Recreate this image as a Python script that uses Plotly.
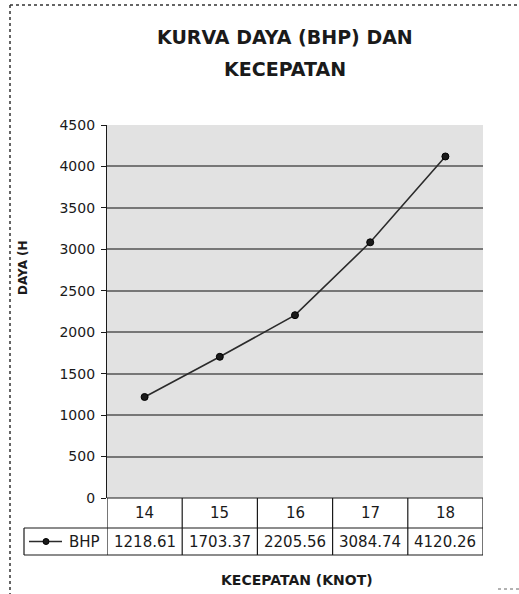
import plotly.graph_objects as go

# Ship speed (knots) versus brake horsepower
speeds = ["14", "15", "16", "17", "18"]
bhp = [1218.61, 1703.37, 2205.56, 3084.74, 4120.26]
series_name = "BHP"
y_ticks = [0, 500, 1000, 1500, 2000, 2500, 3000, 3500, 4000, 4500]

W, H = 519, 594
FONT = "DejaVu Sans"
INK = "#1a1a1a"


def px(x):
    return x / W


def py(y):
    return 1 - y / H


def label(x, y, text, size, xref="paper", **kw):
    return dict(x=x, y=y, xref=xref, yref="paper", text=text, showarrow=False,
                xanchor="center", yanchor="middle",
                font=dict(family=FONT, size=size, color=INK), **kw)


fig = go.Figure(
    go.Scatter(
        x=speeds,
        y=bhp,
        mode="lines+markers",
        name=series_name,
        line=dict(color="#2b2b2b", width=1.6),
        marker=dict(size=7, color="#1a1a1a", line=dict(color="#000000", width=1)),
        showlegend=False,
    )
)

shapes = []
annotations = []

# outer chart frame (top and left edges)
frame = dict(color="#333333", width=1.5, dash="dot")
shapes.append(dict(type="line", xref="paper", yref="paper", x0=px(10), x1=px(519), y0=py(5), y1=py(5), line=frame))
shapes.append(dict(type="line", xref="paper", yref="paper", x0=px(10), x1=px(10), y0=py(5), y1=py(594), line=frame))
shapes.append(dict(type="line", xref="paper", yref="paper", x0=px(498), x1=px(519), y0=py(589), y1=py(589),
                   line=dict(color="#666666", width=1, dash="dot")))

# data table under the plot
row1_top, row1_bot, row2_bot = 498, 528, 555
table_line = dict(color=INK, width=1.2)
shapes.append(dict(type="line", xref="paper", yref="paper", x0=px(107), x1=px(483), y0=py(row1_top), y1=py(row1_top), line=table_line))
shapes.append(dict(type="line", xref="paper", yref="paper", x0=px(24), x1=px(483), y0=py(row1_bot), y1=py(row1_bot), line=table_line))
shapes.append(dict(type="line", xref="paper", yref="paper", x0=px(24), x1=px(483), y0=py(row2_bot), y1=py(row2_bot), line=table_line))
shapes.append(dict(type="line", xref="paper", yref="paper", x0=px(24), x1=px(24), y0=py(row1_bot), y1=py(row2_bot), line=table_line))
for i in range(len(speeds) + 1):
    shapes.append(dict(type="line", xref="x", yref="paper", x0=i - 0.5, x1=i - 0.5,
                       y0=py(row1_top), y1=py(row2_bot), line=table_line))

for i, (s, v) in enumerate(zip(speeds, bhp)):
    annotations.append(label(i, py((row1_top + row1_bot) / 2), s, 15, xref="x"))
    annotations.append(label(i, py((row1_bot + row2_bot) / 2), f"{v:.2f}", 15, xref="x"))

# legend key inside the table
ky = py((row1_bot + row2_bot) / 2)
shapes.append(dict(type="line", xref="paper", yref="paper", x0=px(29), x1=px(62), y0=ky, y1=ky,
                   line=dict(color="#2b2b2b", width=1.4)))
shapes.append(dict(type="circle", xref="paper", yref="paper", x0=px(43), x1=px(49), y0=ky - 3 / H, y1=ky + 3 / H,
                   fillcolor="#1a1a1a", line=dict(color="#000", width=1)))
annotations.append(label(px(84), ky, series_name, 15))

# titles
annotations.append(label(px(285), py(37), "<b>KURVA DAYA (BHP) DAN</b>", 19))
annotations.append(label(px(285), py(69), "<b>KECEPATAN</b>", 19))
annotations.append(label(px(297), py(580), "<b>KECEPATAN (KNOT)</b>", 14))
annotations.append(label(px(23), py(268), "<b>DAYA (H</b>", 12, textangle=-90))

fig.update_layout(
    width=W,
    height=H,
    margin=dict(l=0, r=0, t=0, b=0, pad=0, autoexpand=False),
    paper_bgcolor="white",
    plot_bgcolor="#e2e2e2",
    shapes=shapes,
    annotations=annotations,
    xaxis=dict(
        type="category",
        range=[-0.5, len(speeds) - 0.5],
        domain=[px(107), px(483)],
        showticklabels=False,
        showgrid=False,
        showline=False,
        zeroline=False,
        ticks="",
        automargin=False,
    ),
    yaxis=dict(
        range=[0, 4500],
        domain=[py(498), py(125)],
        tickvals=y_ticks,
        ticktext=[str(t) for t in y_ticks],
        tickfont=dict(family=FONT, size=14, color=INK),
        gridcolor="#777777",
        gridwidth=1.6,
        showline=True,
        linecolor=INK,
        linewidth=1.2,
        ticks="outside",
        ticklen=5,
        tickcolor=INK,
        ticklabelstandoff=3,
        zeroline=False,
        automargin=False,
    ),
)

fig.write_html("out.html")
